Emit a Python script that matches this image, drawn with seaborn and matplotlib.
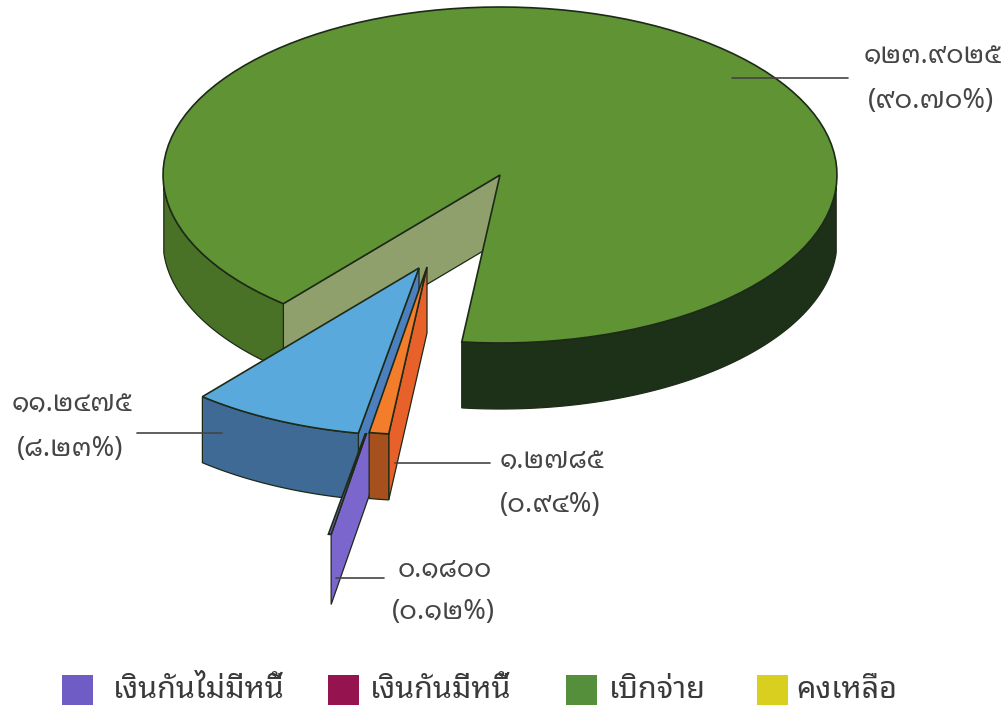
import numpy as np
import matplotlib
matplotlib.use("Agg")
import matplotlib.pyplot as plt
from matplotlib.patches import Rectangle
import seaborn as sns

slice_names = ["เบิกจ่าย", "สีส้ม", "เงินกันไม่มีหนี้", "สีฟ้า"]
slice_values = [123.9025, 1.2785, 0.1800, 11.2475]
value_labels = ["๑๒๓.๙๐๒๕", "๑.๒๗๘๕", "๐.๑๘๐๐", "๑๑.๒๔๗๕"]
pct_labels = ["(๙๐.๗๐%)", "(๐.๙๔%)", "(๐.๑๒%)", "(๘.๒๓%)"]
legend_names = ["เงินกันไม่มีหนี้", "เงินกันมีหนี้", "เบิกจ่าย", "คงเหลือ"]
legend_colors = ["#6f5cc4", "#95134f", "#568f3c", "#d9cf1e"]

# layout, in pixels of the picture
A, B, DEPTH = 337, 168, 66
START = 130
apex = {"green": (500, 175), "orange": (427, 267), "purple": (389, 369), "blue": (419, 268)}
thai = ["Noto Sans Thai Looped", "Noto Sans Thai", "Loma", "DejaVu Sans"]
text_col = "#454545"
line_col = "#1d2a18"

sns.set_theme(style="white")
green_top, green_left, green_right, green_cut = sns.color_palette(["#5f9334", "#4a7226", "#1c3118", "#8fa06c"])
blue_top, blue_front, blue_side = sns.color_palette(["#5aa9dc", "#3f6a96", "#4c7fbd"])
orange_top, orange_front, orange_side = sns.color_palette(["#f47d2c", "#a6501e", "#e8612a"])
purple_col = "#7a66cc"

# each slice goes back from the end of the one before, clockwise on the picture
shares = np.array(slice_values) / sum(slice_values) * 360
green_end = START + shares[0]
angles = {}
angles["green"] = (START, green_end)
cur = green_end - 360
for name, sh in zip(["orange", "purple", "blue"], shares[1:]):
    angles[name] = (cur, cur + sh)
    cur += sh


def rim(center, t1, t2, n=120):
    t = np.radians(np.linspace(t1, t2, n))
    return center[0] + A * np.cos(t), center[1] + B * np.sin(t)


def top_face(ax, center, t1, t2, col, z=1):
    x, y = rim(center, t1, t2)
    return ax.fill(np.r_[center[0], x], np.r_[center[1], y], facecolor=col, edgecolor=line_col, lw=1.2, zorder=z)


def outer_wall(ax, center, t1, t2, col, depth=DEPTH, z=1):
    x, y = rim(center, t1, t2)
    return ax.fill(np.r_[x, x[::-1]], np.r_[y, y[::-1] + depth], facecolor=col, edgecolor=line_col, lw=0.9, zorder=z)


def cut_wall(ax, center, t, col, depth=DEPTH, z=1):
    x, y = rim(center, t, t, 1)
    return ax.fill([center[0], x[0], x[0], center[0]], [center[1], y[0], y[0] + depth, center[1] + depth],
                   facecolor=col, edgecolor=line_col, lw=0.9, zorder=z)


fig = plt.figure(figsize=(10.06, 7.09), dpi=100)
ax = fig.add_axes([0, 0, 1, 1])
ax.set_xlim(0, 1006)
ax.set_ylim(709, 0)

# big slice
g1, g2 = angles["green"]
cut_wall(ax, apex["green"], g1, green_cut, z=1)
outer_wall(ax, apex["green"], g1, 176, green_left, z=1)
outer_wall(ax, apex["green"], 364, g2, green_right, z=1)
top_face(ax, apex["green"], g1, g2, green_top, z=2)

# blue slice
b1, b2 = angles["blue"]
cut_wall(ax, apex["blue"], b1, blue_side, z=3)
outer_wall(ax, apex["blue"], b1, b2, blue_front, z=3)
top_face(ax, apex["blue"], b1, b2, blue_top, z=4)

# thin purple slice, further out than the rest; its tip stays behind the blue one
p1, p2 = angles["purple"]
purple_clip = Rectangle((0, 433), 1006, 276, transform=ax.transData)
purple_parts = cut_wall(ax, apex["purple"], p1, purple_col, depth=70, z=5)
purple_parts += top_face(ax, apex["purple"], p1, p2, purple_col, z=5)
for part in purple_parts:
    part.set_clip_path(purple_clip)

# orange slice
o1, o2 = angles["orange"]
cut_wall(ax, apex["orange"], o1, orange_side, z=6)
outer_wall(ax, apex["orange"], o1, o2, orange_front, z=6)
top_face(ax, apex["orange"], o1, o2, orange_top, z=7)

# leader lines
leader_x = [(732, 848), (395, 490), (336, 384), (137, 222)]
leader_y = [78, 463, 578, 433]
for lx, ly in zip(leader_x, leader_y):
    sns.lineplot(x=list(lx), y=[ly, ly], color="#444444", lw=1.2, ax=ax, zorder=8, sort=False)

# labels
label_x = [933, 552, 445, 72]
label_y1 = [57, 462, 570, 405]
label_y2 = [101, 505, 612, 449]
for i in range(4):
    ax.text(label_x[i], label_y1[i], value_labels[i], ha="center", va="center", fontsize=19, color=text_col, family=thai)
    ax.text(label_x[i] - 2, label_y2[i], pct_labels[i], ha="center", va="center", fontsize=19.5, color=text_col, family=thai)

# legend
swatch_x = [62, 328, 566, 757]
legend_x = [113, 370, 609, 796]
for sx, tx, nm, col in zip(swatch_x, legend_x, legend_names, legend_colors):
    ax.add_patch(Rectangle((sx, 675), 31, 30, facecolor=col, edgecolor="none"))
    ax.text(tx, 690, nm, ha="left", va="center", fontsize=22, color="#3a3a3a", family=thai)

ax.set_xlim(0, 1006)
ax.set_ylim(709, 0)
ax.axis("off")
fig.savefig("out.png", dpi=100)
